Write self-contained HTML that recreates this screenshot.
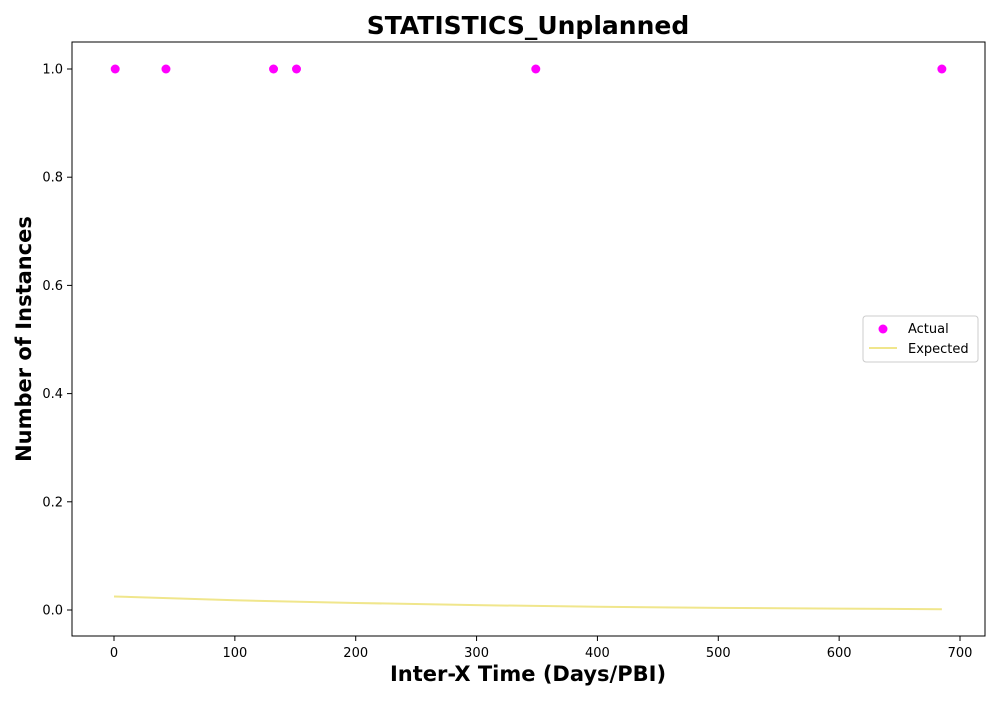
<!DOCTYPE html>
<html><head><meta charset="utf-8"><style>
body{margin:0;background:#fff;font-family:"DejaVu Sans","Liberation Sans",sans-serif}
svg text{font-family:"DejaVu Sans","Liberation Sans",sans-serif}
</style></head><body>
<svg id="chart" width="1000" height="700" xmlns="http://www.w3.org/2000/svg">
<rect width="1000" height="700" fill="#fff"/>
<text x="528" y="34" text-anchor="middle" font-size="25" font-weight="bold">STATISTICS_Unplanned</text>
<g id="plot"></g>
<rect x="72" y="42" width="913" height="594" fill="none" stroke="#000" stroke-width="1"/>
<text x="528" y="681" text-anchor="middle" font-size="21" font-weight="bold">Inter-X Time (Days/PBI)</text>
<text transform="translate(31,339) rotate(-90)" text-anchor="middle" font-size="21" font-weight="bold">Number of Instances</text>
<g>
<rect x="863" y="316" width="115" height="46" rx="3" fill="#fff" stroke="#ccc"/>
<circle cx="883" cy="329" r="4.5" fill="#ff00ff"/>
<text x="908" y="333" font-size="13">Actual</text>
<line x1="869" y1="348" x2="897" y2="348" stroke="#f0e68c" stroke-width="2"/>
<text x="908" y="353" font-size="13">Expected</text>
</g>
</svg>
<script>
const xTicks=[0,100,200,300,400,500,600,700];
const yTicks=[0.0,0.2,0.4,0.6,0.8,1.0];
const actualX=[1,43,132,151,349,685];
const actualY=[1,1,1,1,1,1];
const expectedX=[0,100,200,300,400,500,600,685];
const expectedY=[0.025,0.018,0.013,0.009,0.006,0.004,0.0025,0.0015];
const sx=v=>114+v*(846/700);
const sy=v=>610-v*541;
const NS="http://www.w3.org/2000/svg";
const g=document.getElementById('plot');
function mk(t,a){const e=document.createElementNS(NS,t);for(const k in a)e.setAttribute(k,a[k]);g.appendChild(e);return e;}
xTicks.forEach(v=>{
 const l=mk('line',{x1:sx(v),x2:sx(v),y1:636,y2:641,stroke:'#000'});
 
 
 const t=mk('text',{x:sx(v),y:657,'text-anchor':'middle','font-size':13});
 t.textContent=v;
 
 
});
yTicks.forEach(v=>{
 const l=mk('line',{x1:67,x2:72,y1:sy(v),y2:sy(v),stroke:'#000'});
 
 
 const t=mk('text',{x:63,y:sy(v)+4.5,'text-anchor':'end','font-size':13});
 t.textContent=v.toFixed(1);
 
 
});
const p=mk('polyline',{points:expectedX.map((x,i)=>sx(x)+','+sy(expectedY[i])).join(' '),fill:'none',stroke:'#f0e68c','stroke-width':2});


actualX.forEach((x,i)=>{
 const c=mk('circle',{cx:sx(x),cy:sy(actualY[i]),r:4.5,fill:'#ff00ff'});
 
 
});
</script>
</body></html>
